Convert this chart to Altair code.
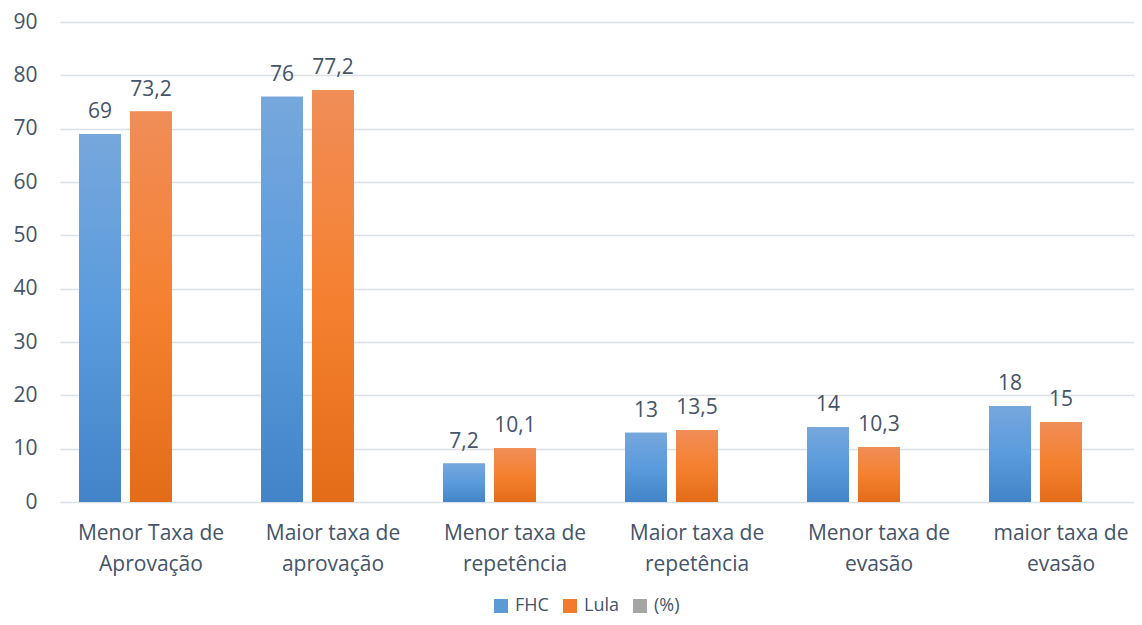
import altair as alt
import pandas as pd

categories = [
    "Menor Taxa de\nAprovação",
    "Maior taxa de\naprovação",
    "Menor taxa de\nrepetência",
    "Maior taxa de\nrepetência",
    "Menor taxa de\nevasão",
    "maior taxa de\nevasão",
]
fhc = [69, 76, 7.2, 13, 14, 18]
lula = [73.2, 77.2, 10.1, 13.5, 10.3, 15]
series = ["FHC", "Lula", "(%)"]
legend_colors = ["#5B9BD5", "#F07C2C", "#A5A5A5"]

rows = []
for c, a, b in zip(categories, fhc, lula):
    rows.append({"cat": c, "serie": "FHC", "v": a})
    rows.append({"cat": c, "serie": "Lula", "v": b})
df = pd.DataFrame(rows)

FONT = "Open Sans"
TXT = "#44546A"

xenc = alt.X("cat:N", sort=categories, title=None,
             scale=alt.Scale(range=[0, 1092], paddingInner=0, paddingOuter=0),
             axis=alt.Axis(labelExpr="split(datum.label, '\\n')", labelAngle=0,
                           labelFontSize=21, labelFont=FONT, labelColor=TXT,
                           labelLineHeight=31, labelPadding=20, ticks=False,
                           domain=False, grid=False, labelBaseline="top"))
xoff = alt.XOffset("serie:N", scale=alt.Scale(domain=series, paddingInner=0.1765, paddingOuter=0.3726))
yenc = alt.Y("v:Q", title=None,
             scale=alt.Scale(domain=[0, 90], nice=False),
             axis=alt.Axis(values=list(range(0, 91, 10)), labelFontSize=21, labelFont=FONT,
                           labelColor=TXT, labelPadding=23, ticks=False, domain=False,
                           gridColor="#DCE0E7", gridWidth=1.6))

base = alt.Chart(df)

solid = base.mark_bar().encode(
    x=xenc, xOffset=xoff, y=yenc,
    color=alt.Color("serie:N", scale=alt.Scale(domain=series, range=legend_colors),
                    legend=alt.Legend(title=None, orient="none", direction="horizontal",
                                      legendX=432, legendY=575, symbolType="square",
                                      symbolSize=196, symbolStrokeWidth=0,
                                      labelFontSize=18, labelFont=FONT, labelColor=TXT,
                                      columnPadding=12, labelOffset=5, padding=0)),
)

def grad(stops):
    return alt.LinearGradient(
        gradient="linear",
        stops=[alt.GradientStop(color=c, offset=o) for o, c in stops],
        x1=0, x2=0, y1=0, y2=1,
    )

blue_g = grad([(0, "#76A7DC"), (0.5, "#5A9BDD"), (1, "#4384C8")])
orange_g = grad([(0, "#F08D58"), (0.5, "#F58130"), (1, "#E36C18")])

gb = base.transform_filter(alt.datum.serie == "FHC").mark_bar(color=blue_g).encode(
    x=xenc, xOffset=xoff, y=yenc)
go = base.transform_filter(alt.datum.serie == "Lula").mark_bar(color=orange_g).encode(
    x=xenc, xOffset=xoff, y=yenc)

labels = base.transform_calculate(
    lab="replace(format(datum.v, '.1~f'), '.', ',')"
).mark_text(font=FONT, fontSize=21, color=TXT, baseline="alphabetic", dy=-16).encode(
    x=xenc, xOffset=xoff, y=yenc, text="lab:N")

chart = alt.layer(solid, gb, go, labels).properties(
    width=1074, height=480,
    autosize=alt.AutoSizeParams(type="none"),
    padding={"left": 52, "top": 14, "right": 0, "bottom": 115},
).configure(background="white").configure_view(stroke=None)

chart.save("out.html", embed_options={"renderer": "svg", "actions": False})
